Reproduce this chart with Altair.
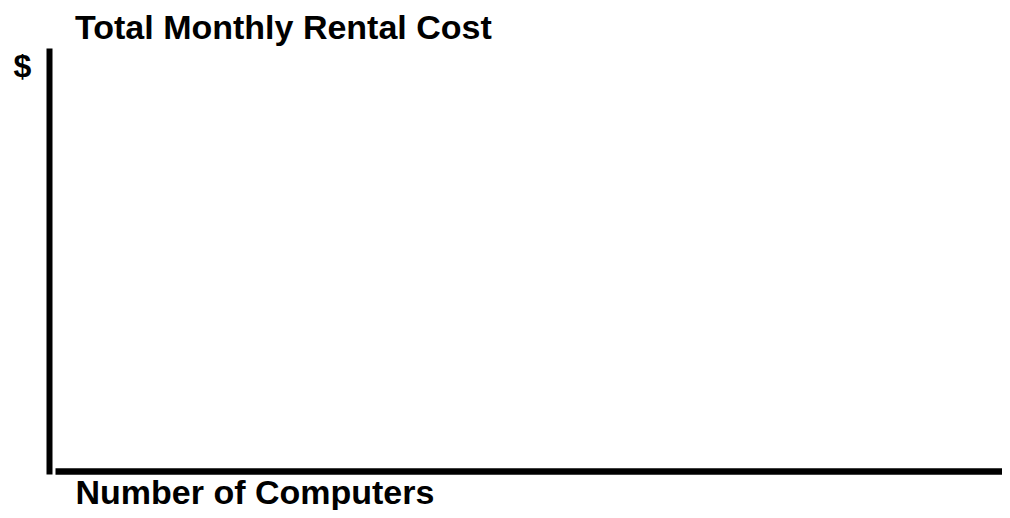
import altair as alt
import pandas as pd

# Blank axes chart: the domains only define the empty plotting space
computers = [0, 10]
cost = [0, 100]

title_text = "Total Monthly Rental Cost"
x_title = "Number of Computers"
y_title = "$"

FONT = "Liberation Sans, Arial, sans-serif"

df = pd.DataFrame({"computers": computers, "cost": cost})

chart = (
    alt.Chart(df)
    .mark_point(opacity=0)
    .encode(
        x=alt.X(
            "computers:Q",
            scale=alt.Scale(domain=computers, nice=False, zero=False),
            axis=alt.Axis(
                title=x_title,
                labels=False,
                ticks=False,
                grid=False,
                domainColor="black",
                domainWidth=6.5,
                titleFont=FONT,
                titleFontSize=34,
                titleFontWeight="bold",
                titleColor="black",
                titleAnchor="start",
                titleAlign="left",
                titleBaseline="alphabetic",
                titleX=20,
                titleY=32,
            ),
        ),
        y=alt.Y(
            "cost:Q",
            scale=alt.Scale(domain=cost, nice=False, zero=False),
            axis=alt.Axis(
                title=y_title,
                labels=False,
                ticks=False,
                grid=False,
                offset=6,
                domainColor="black",
                domainWidth=6,
                domainCap="square",
                titleFont=FONT,
                titleFontSize=32,
                titleFontWeight="bold",
                titleColor="black",
                titleAngle=0,
                titleAlign="left",
                titleBaseline="alphabetic",
                titleX=-36,
                titleY=25,
            ),
        ),
    )
    .properties(
        width=947,
        height=420,
        background="white",
        autosize=alt.AutoSizeParams(type="none"),
        padding={"left": 47, "top": 43, "right": 0, "bottom": 39},
        title=alt.TitleParams(
            title_text,
            anchor="start",
            frame="group",
            dx=20,
            dy=37,
            offset=12,
            font=FONT,
            fontSize=34,
            fontWeight="bold",
            color="black",
            baseline="alphabetic",
        ),
    )
    .configure_view(strokeWidth=0, stroke=None)
)

chart.save("out.html", embed_options={"renderer": "svg", "actions": False})
